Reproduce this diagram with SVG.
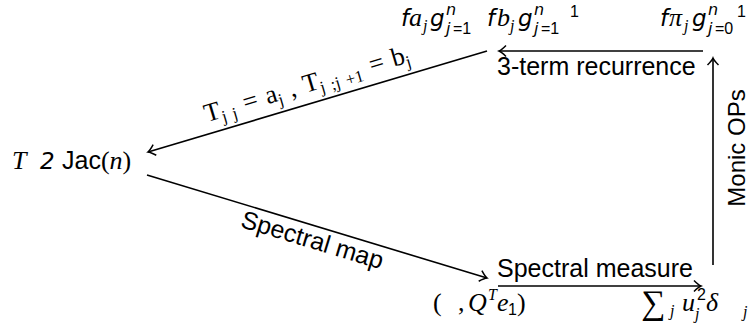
<svg xmlns="http://www.w3.org/2000/svg" width="750" height="325" viewBox="0 0 750 325">
<defs>
<style>
.sans{font-family:"Liberation Sans",Arial,sans-serif;font-size:25px;fill:#000}
.ser{font-family:"Liberation Serif","Times New Roman",serif;font-size:26px;fill:#000}
.it{font-style:italic}
.sit{font-family:"DejaVu Sans","Liberation Sans",sans-serif;font-style:italic;font-size:23px}
.sub{font-size:16px}
.line{stroke:#000;stroke-width:1.6;fill:none;marker-end:url(#ah)}
</style>
<marker id="ah" viewBox="-10 -7 12 14" refX="0" refY="0" markerWidth="12" markerHeight="14" markerUnits="userSpaceOnUse" orient="auto">
<path d="M -7 -5.5 Q -2.5 -1 0 0 Q -2.5 1 -7 5.5" fill="none" stroke="#000" stroke-width="1.5"/>
</marker>
</defs>
<rect width="750" height="325" fill="#fff"/>

<g id="connectors">
<line class="line" x1="703" y1="51" x2="499" y2="51"/>
<line class="line" x1="487" y1="51" x2="148" y2="152"/>
<line class="line" x1="147" y1="175" x2="487" y2="278"/>
<line class="line" x1="498" y1="286" x2="701" y2="286"/>
<line class="line" x1="713" y1="265" x2="713" y2="58"/>
<text class="sans" x="497" y="75">3-term recurrence</text>
<text class="sans" x="497" y="277">Spectral measure</text>
<text class="sans" style="font-size:24px" text-anchor="middle" transform="translate(745,148) rotate(-90)">Monic OPs</text>
<text class="sans" text-anchor="middle" transform="translate(310,248) rotate(16.85)">Spectral map</text>
<text class="ser" style="font-size:26px;word-spacing:2px" text-anchor="middle" transform="translate(309,92) rotate(-16.6)">T<tspan class="sub" style="font-size:17px" dy="5">j j</tspan><tspan dy="-5">  =  </tspan>a<tspan class="sub" style="font-size:17px" dy="5">j</tspan><tspan dy="-5"> ,  </tspan>T<tspan class="sub" style="font-size:17px" dy="5">j ;j +1</tspan><tspan dy="-5">  =  </tspan>b<tspan class="sub" style="font-size:17px" dy="5">j</tspan></text>
</g>

<g id="node-jac">
<text class="ser" x="12" y="169"><tspan class="it">T</tspan><tspan class="sit" x="40">2</tspan><tspan class="sans" x="62">Jac</tspan>(<tspan class="it">n</tspan>)</text>
</g>

<g id="node-spectral">
<text class="ser" x="433" y="311">(<tspan x="458">,</tspan><tspan class="it" x="468">Q</tspan><tspan class="it sub" x="488" y="300">T</tspan><tspan class="it" x="497" y="311">e</tspan><tspan class="sans sub" x="508" y="315">1</tspan><tspan x="517" y="311">)</tspan></text>
</g>

<g id="node-measure">
<text class="ser" x="641" y="312"><tspan style="font-size:34px" y="314">∑</tspan><tspan class="it sub" x="670" y="316">j</tspan><tspan class="it" x="682" y="311">u</tspan><tspan class="sans sub" x="697" y="300">2</tspan><tspan class="it sub" x="695" y="319">j</tspan><tspan class="it" x="706" y="311">δ</tspan><tspan class="it sub" x="743" y="317">j</tspan></text>
</g>

<g id="node-ab">
<text class="ser" y="26"><tspan class="sit" x="401">f</tspan><tspan class="it" x="409">a</tspan><tspan class="it sub" x="423" y="31">j</tspan><tspan class="sit" x="430" y="26">g</tspan><tspan class="sit sub" x="446" y="15">n</tspan><tspan class="sit sub" x="446" y="34">j</tspan><tspan class="sans sub" x="453" y="34">=1</tspan><tspan class="sit" x="487" y="26">f</tspan><tspan class="it" x="497" y="26">b</tspan><tspan class="it sub" x="510" y="31">j</tspan><tspan class="sit" x="518" y="26">g</tspan><tspan class="sit sub" x="534" y="15">n</tspan><tspan class="sit sub" x="534" y="34">j</tspan><tspan class="sans sub" x="541" y="34">=1</tspan><tspan class="sans sub" x="570" y="17">1</tspan></text>
</g>

<g id="node-pi">
<text class="ser" y="26"><tspan class="sit" x="660">f</tspan><tspan class="it" x="669">π</tspan><tspan class="it sub" x="684" y="31">j</tspan><tspan class="sit" x="692" y="26">g</tspan><tspan class="sit sub" x="708" y="15">n</tspan><tspan class="sit sub" x="708" y="34">j</tspan><tspan class="sans sub" x="715" y="34">=0</tspan><tspan class="sans sub" x="737" y="17">1</tspan></text>
</g>
</svg>
